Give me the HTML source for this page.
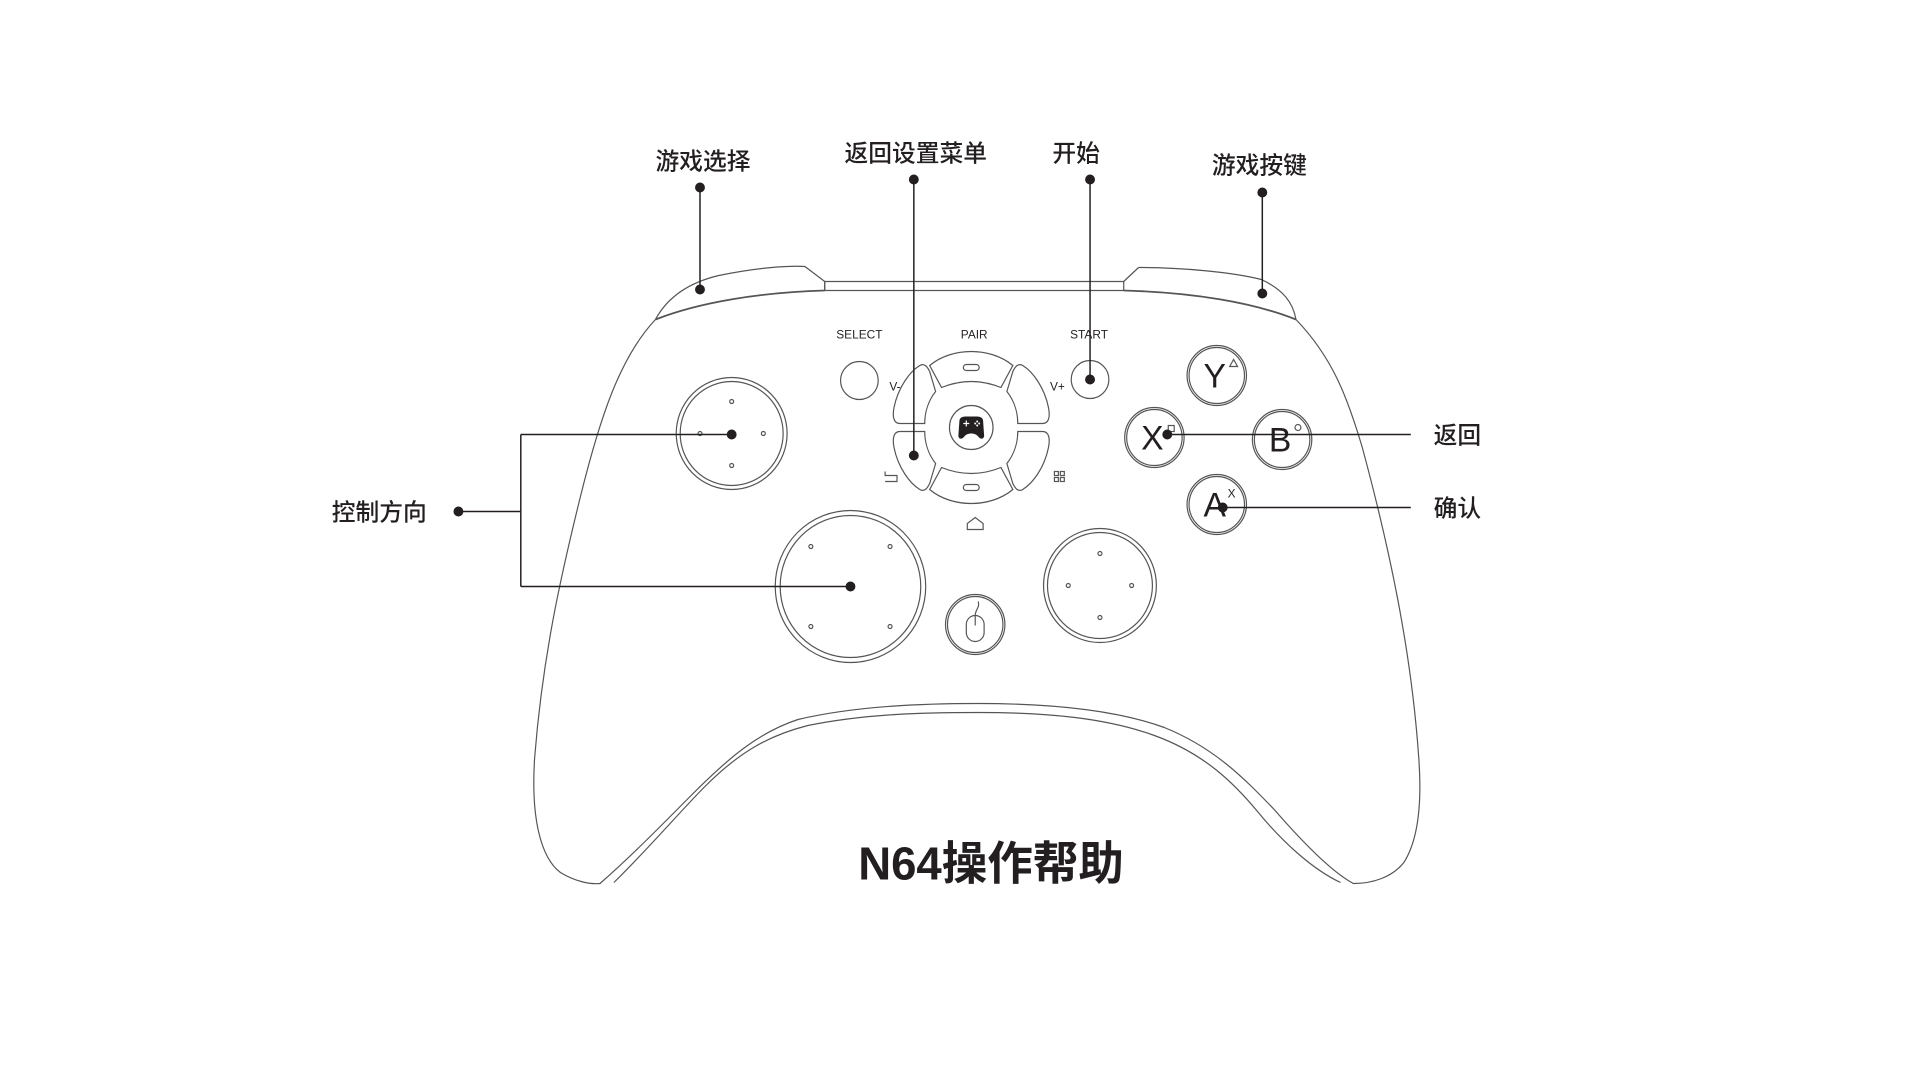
<!DOCTYPE html>
<html><head><meta charset="utf-8"><style>
html,body{margin:0;padding:0;background:#fff;}
svg{display:block;}
.cn{font-family:"Liberation Sans","Noto Sans CJK SC",sans-serif;fill:#231f20;}
.lt{font-family:"Liberation Sans",sans-serif;fill:#231f20;}
</style></head><body>
<svg width="1920" height="1080" viewBox="0 0 1920 1080" xmlns="http://www.w3.org/2000/svg">
<g transform="translate(6,-2.5) scale(0.99,1)">
<g fill="none" stroke="#555" stroke-width="1.2">
<!-- shoulders -->
<path d="M656,322 C668,300 690,285 720,278 C760,270 790,268 807,269 L827,284"/>
<path d="M1144,270 C1190,270 1240,275 1268,282 C1290,292 1300,305 1303,322"/>
<path d="M827,284 L1129,284 L1129,293 L827,293 Z"/>
<path d="M827,284 L827,293 M1129,284 L1144,270"/>
<path d="M656,322 C700,305 760,295 827,293 M1129,293 C1200,295 1260,305 1303,322" stroke-width="1.8"/>
<!-- body -->
<path d="M656,322 C620,360 600,420 580,500 C560,580 542,660 534,760 C530,820 540,860 560,875 C575,884 590,887 600,886 C630,860 660,830 690,800 C730,760 760,735 800,722 C860,708 930,706 982,706 C1050,706 1120,712 1170,730 C1220,750 1250,780 1281,812 C1310,845 1340,875 1361,886 C1380,886 1400,880 1412,865 C1428,840 1430,800 1427,760 C1420,660 1400,560 1370,450 C1355,400 1340,360 1303,322"/>
<path d="M614,885 C650,850 680,815 705,790 C740,755 770,738 810,728 C870,716 930,715 982,715 C1050,715 1110,720 1160,738 C1210,756 1240,785 1265,815 C1290,845 1320,872 1348,885"/>
<!-- left stick -->
<circle cx="733" cy="436" r="56"/><circle cx="733" cy="436" r="52"/>
<circle cx="733" cy="404" r="2"/><circle cx="733" cy="468" r="2"/><circle cx="701" cy="436" r="2"/><circle cx="765" cy="436" r="2"/>
<!-- bottom-left stick -->
<circle cx="853" cy="589" r="76"/><circle cx="853" cy="589" r="71"/>
<circle cx="813" cy="549" r="2"/><circle cx="893" cy="549" r="2"/><circle cx="813" cy="629" r="2"/><circle cx="893" cy="629" r="2"/>
<!-- right stick -->
<circle cx="1105" cy="588" r="57"/><circle cx="1105" cy="588" r="53"/>
<circle cx="1105" cy="556" r="2"/><circle cx="1105" cy="620" r="2"/><circle cx="1073" cy="588" r="2"/><circle cx="1137" cy="588" r="2"/>
<!-- mouse button -->
<circle cx="979" cy="627" r="30"/><circle cx="979" cy="627" r="28"/>
<rect x="970" y="618" width="18" height="26" rx="9"/>
<path d="M979,618 L979,628 M979,618 C979,612 984,610 982,604"/>
<!-- select/start -->
<circle cx="862" cy="383" r="19"/>
<circle cx="1095" cy="382" r="19"/>
<!-- dpad -->
<g transform="translate(975,430)">
<path d="M-30,-40 C-10,-48 10,-48 30,-40 L42,-62 C30,-72 14,-76 0,-76 C-14,-76 -30,-72 -42,-62 Z"/>
<path d="M-30,40 C-10,48 10,48 30,40 L42,62 C30,72 14,76 0,76 C-14,76 -30,72 -42,62 Z"/>
<path d="M36,-36 C44,-26 47,-14 47,-4 L72,-4 C78,-4 80,-10 78,-20 C74,-40 62,-56 52,-62 C47,-65 44,-60 42,-56 Z"/>
<path d="M36,36 C44,26 47,14 47,4 L72,4 C78,4 80,10 78,20 C74,40 62,56 52,62 C47,65 44,60 42,56 Z"/>
<path d="M-36,-36 C-44,-26 -47,-14 -47,-4 L-72,-4 C-78,-4 -80,-10 -78,-20 C-74,-40 -62,-56 -52,-62 C-47,-65 -44,-60 -42,-56 Z"/>
<path d="M-36,36 C-44,26 -47,14 -47,4 L-72,4 C-78,4 -80,10 -78,20 C-74,40 -62,56 -52,62 C-47,65 -44,60 -42,56 Z"/>
<circle r="22"/>
<rect x="-8" y="-63" width="16" height="6" rx="3"/>
<rect x="-8" y="57" width="16" height="6" rx="3"/>
</g>
<!-- icons -->
<path d="M888,474 L888,478 L900,478 L900,484 L888,484"/>
<rect x="1059" y="474" width="4" height="4"/><rect x="1065" y="474" width="4" height="4"/><rect x="1059" y="480" width="4" height="4"/><rect x="1065" y="480" width="4" height="4"/>
<path d="M971,532 L971,526 L979,520 L987,526 L987,532 Z"/>
<!-- ABXY -->
<circle cx="1223" cy="378" r="30"/><circle cx="1223" cy="378" r="28"/>
<circle cx="1160" cy="440" r="30"/><circle cx="1160" cy="440" r="28"/>
<circle cx="1289" cy="442" r="30"/><circle cx="1289" cy="442" r="28"/>
<circle cx="1223" cy="507" r="30"/><circle cx="1223" cy="507" r="28"/>
<path d="M1236,369 L1240,362 L1244,369 Z"/>
<rect x="1174" y="428" width="6" height="6"/>
<circle cx="1305" cy="430" r="3"/>
</g>
<!-- gamepad icon -->
<path d="M963,424 C963,420 966,419 970,419 L980,419 C984,419 987,420 987,424 L988,438 C988,442 984,442 982,439 C979,435 971,435 968,439 C966,442 962,442 962,438 Z" fill="#231f20"/>
<g stroke="#fff" stroke-width="1.2" fill="none">
<path d="M967,426 L973,426 M970,423 L970,429"/>
</g>
<g fill="#fff"><circle cx="981" cy="424" r="1"/><circle cx="981" cy="428" r="1"/><circle cx="979" cy="426" r="1"/><circle cx="983" cy="426" r="1"/></g>
<!-- leader lines -->
<g stroke="#231f20" stroke-width="1.5" fill="none">
<path d="M701,190 L701,292"/>
<path d="M917,182 L917,458"/>
<path d="M1095,182 L1095,380"/>
<path d="M1269,195 L1269,296"/>
<path d="M457,514 L520,514 M520,437 L520,589 M520,437 L733,437 M520,589 L853,589"/>
<path d="M1173,437 L1419,437"/>
<path d="M1229,510 L1419,510"/>
</g>
<g fill="#231f20">
<circle cx="701" cy="190" r="5"/><circle cx="701" cy="292" r="5"/>
<circle cx="917" cy="182" r="5"/><circle cx="917" cy="458" r="5"/>
<circle cx="1095" cy="182" r="5"/><circle cx="1095" cy="382" r="5"/>
<circle cx="1269" cy="195" r="5"/><circle cx="1269" cy="296" r="5"/>
<circle cx="457" cy="514" r="5"/><circle cx="733" cy="437" r="5"/><circle cx="853" cy="589" r="5"/>
<circle cx="1173" cy="437" r="5"/><circle cx="1229" cy="510" r="5"/>
</g>
<!-- text -->
<g class="cn" font-size="24" text-anchor="middle" font-weight="500">
<text x="704" y="172">游戏选择</text>
<text x="919" y="164">返回设置菜单</text>
<text x="1081" y="164">开始</text>
<text x="1266" y="176">游戏按键</text>
<text x="377" y="523">控制方向</text>
<text x="1466" y="446">返回</text>
<text x="1466" y="519">确认</text>
<text x="995" y="882" font-size="46" font-weight="bold">N64操作帮助</text>
</g>
<g class="lt" font-size="12" text-anchor="middle">
<text x="862" y="341">SELECT</text>
<text x="978" y="341">PAIR</text>
<text x="1094" y="341">START</text>
<text x="898" y="393">V-</text>
<text x="1062" y="393">V+</text>
</g>
<g class="lt" font-size="34" text-anchor="middle">
<text x="1221" y="390">Y</text>
<text x="1158" y="452">X</text>
<text x="1287" y="454">B</text>
<text x="1221" y="519">A</text>
</g>
<text class="lt" x="1234" y="500" font-size="12">X</text>
</g>
</svg>
</body></html>
